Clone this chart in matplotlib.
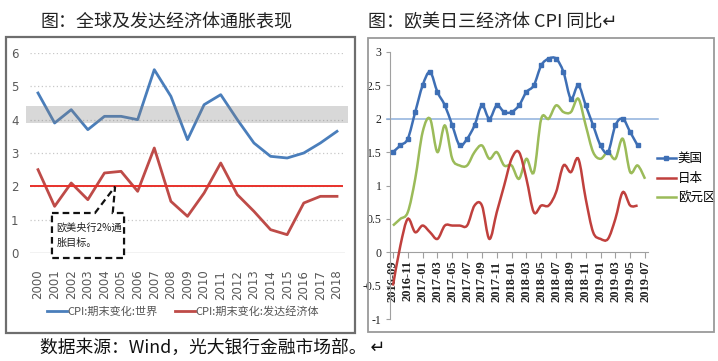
import numpy as np
import pandas as pd
import matplotlib
matplotlib.use('Agg')
import matplotlib.pyplot as plt
from matplotlib.path import Path
from matplotlib.patches import PathPatch, Rectangle, Polygon
from matplotlib.lines import Line2D

plt.rcParams['font.family'] = ['Noto Sans CJK SC', 'DejaVu Sans']

# left chart: yearly CPI
years = list(range(2000, 2019))
world = [4.8, 3.9, 4.3, 3.7, 4.1, 4.1, 4.0, 5.5, 4.7, 3.4, 4.45, 4.75, 4.0,
         3.3, 2.9, 2.85, 3.0, 3.3, 3.65]
developed = [2.5, 1.4, 2.1, 1.6, 2.4, 2.45, 1.85, 3.15, 1.55, 1.1, 1.8, 2.7,
             1.75, 1.25, 0.7, 0.55, 1.5, 1.7, 1.7]
band_low, band_high = 3.9, 4.4
target = 2.0

# right chart: monthly CPI yoy, 2016-09 .. 2019-07
months = list(pd.period_range('2016-09', '2019-07', freq='M').strftime('%Y-%m'))
us = [1.5, 1.6, 1.7, 2.1,
      2.5, 2.7, 2.4, 2.2, 1.9, 1.6, 1.7, 1.9, 2.2, 2.0, 2.2, 2.1,
      2.1, 2.2, 2.4, 2.5, 2.8, 2.9, 2.9, 2.7, 2.3, 2.5, 2.2, 1.9,
      1.6, 1.5, 1.9, 2.0, 1.8, 1.6]
japan = [-0.5, 0.1, 0.5, 0.3,
         0.4, 0.3, 0.2, 0.4, 0.4, 0.4, 0.4, 0.7, 0.7, 0.2, 0.6, 1.0,
         1.4, 1.5, 1.1, 0.6, 0.7, 0.7, 0.9, 1.3, 1.2, 1.4, 0.8, 0.3,
         0.2, 0.2, 0.5, 0.9, 0.7, 0.7]
euro = [0.4, 0.5, 0.6, 1.1,
        1.8, 2.0, 1.5, 1.9, 1.4, 1.3, 1.3, 1.5, 1.6, 1.4, 1.5, 1.3,
        1.3, 1.1, 1.4, 1.2, 2.0, 2.0, 2.2, 2.1, 2.1, 2.3, 1.9, 1.5,
        1.4, 1.5, 1.4, 1.7, 1.2, 1.3, 1.1]

BLUE_L = '#4A7EBB'
RED_L = '#BE4B48'
BLUE_R = '#3E6FB5'
RED_R = '#C0403D'
GREEN_R = '#9BBB59'


def smooth_path(x, y):
    # excel-like smoothed line drawn as bezier segments through the points
    x = np.asarray(x, float)
    y = np.asarray(y, float)
    n = len(x)
    verts = [(x[0], y[0])]
    codes = [Path.MOVETO]
    for i in range(n - 1):
        p = i - 1 if i > 0 else i
        q = i + 2 if i + 2 < n else i + 1
        c1 = (x[i] + (x[i + 1] - x[p]) / 6, y[i] + (y[i + 1] - y[p]) / 6)
        c2 = (x[i + 1] - (x[q] - x[i]) / 6, y[i + 1] - (y[q] - y[i]) / 6)
        verts += [c1, c2, (x[i + 1], y[i + 1])]
        codes += [Path.CURVE4] * 3
    return Path(verts, codes)


W, H = 718, 361
fig = plt.figure(figsize=(W / 100, H / 100), dpi=100)

# frames
fig.add_artist(Rectangle((6 / W, 1 - 333 / H), 349 / W, 296 / H, transform=fig.transFigure,
                         fill=False, ec='#6e6e6e', lw=1.6))
fig.add_artist(Rectangle((368 / W, 1 - 332 / H), 346 / W, 294 / H, transform=fig.transFigure,
                         fill=False, ec='#9a9a9a', lw=1.3))

# titles / footer
fig.text(166 / W, 1 - 22 / H, '图：全球及发达经济体通胀表现', fontsize=13, color='#222222',
         ha='center', va='center')
fig.text(368 / W, 1 - 22 / H, '图：欧美日三经济体 CPI 同比↵', fontsize=13, color='#222222',
         ha='left', va='center')
fig.text(40 / W, 1 - 348 / H, '数据来源：Wind，光大银行金融市场部。 ↵', fontsize=12.8,
         color='#111111', ha='left', va='center')

# ---- left chart ----
ax1 = fig.add_axes([29.7 / W, 1 - 253 / H, 315.6 / W, 200 / H])
ax1.set_xlim(1999.5, 2018.5)
ax1.set_ylim(0, 6)
for s in ax1.spines.values():
    s.set_visible(False)
ax1.set_yticks(range(0, 7))
ax1.set_xticks(years)
ax1.set_xticklabels([str(y) for y in years], rotation=90,
                    family=['Liberation Sans Narrow', 'DejaVu Sans'], fontsize=8.5, color='#595959')
for lab in ax1.get_yticklabels():
    lab.set_family(['Liberation Sans Narrow', 'DejaVu Sans'])
ax1.tick_params(axis='y', length=0, labelsize=8.5, labelcolor='#595959', pad=8)
ax1.tick_params(axis='x', length=0, pad=12)
for v in range(1, 7):
    ax1.axhline(v, color='#c8c8c8', lw=0.9, ls=(0, (1, 2)), zorder=1)
ax1.axhline(0, color='#bfbfbf', lw=1, zorder=1)

ax1.plot(years, world, color=BLUE_L, lw=2, zorder=3)
ax1.plot(years, developed, color=RED_L, lw=2, zorder=3)
ax1.axhline(target, xmin=-0.002, xmax=0.99, color='#E8312B', lw=1.4, zorder=3)
ax1.axhspan(band_low, band_high, xmin=-0.013, xmax=1.008, color='#808080', alpha=0.3,
            lw=0, zorder=4, clip_on=False)

callout = Polygon([(2000.84, 1.2), (2003.43, 1.2), (2004.64, 1.99), (2004.5, 1.2),
                   (2005.18, 1.2), (2005.18, -0.15), (2000.84, -0.15)], closed=True,
                  fc='white', ec='#111111', lw=1.6, ls=(0, (3, 1.8)), zorder=5, clip_on=False)
ax1.add_patch(callout)
ax1.text(2001.1, 0.53, '欧美央行2%通\n胀目标。', fontsize=7.3, color='#222222',
         va='center', ha='left', linespacing=1.6, zorder=6)

h1 = [Line2D([], [], color=BLUE_L, lw=2), Line2D([], [], color=RED_L, lw=2)]
ax1.legend(h1, ['CPI:期末变化:世界', 'CPI:期末变化:发达经济体'], ncol=2, frameon=False,
           loc='center', bbox_to_anchor=(183 / W, 1 - 312 / H), bbox_transform=fig.transFigure,
           fontsize=8, handlelength=1.8, handletextpad=0.1, columnspacing=1.5,
           labelcolor='#555555')

# ---- right chart ----
x = np.arange(len(months))
ax2 = fig.add_axes([390 / W, 1 - 319 / H, 258 / W, 267 / H])
ax2.set_xlim(-0.4, 34.4)
ax2.set_ylim(-1, 3)
ax2.spines['top'].set_visible(False)
ax2.spines['right'].set_visible(False)
ax2.spines['bottom'].set_position(('data', 0))
ax2.spines['bottom'].set_color('#a0a0a0')
ax2.spines['left'].set_color('#a0a0a0')
yt = np.arange(-1, 3.01, 0.5)
ax2.set_yticks(yt)
ax2.set_yticklabels(['{:g}'.format(v) for v in yt], family='Liberation Serif', fontsize=8.5,
                    color='#222222')
ax2.set_xticks(x[::2])
ax2.set_xticklabels(months[::2], rotation=90, family='Liberation Serif', fontweight='bold',
                    fontsize=9, color='#222222')
ax2.tick_params(axis='y', length=3, color='#a0a0a0', pad=3)
ax2.tick_params(axis='x', length=4, color='#a0a0a0', pad=2)

ax2.plot([-0.8, 35.8], [target, target], color='#8EB0DC', lw=1.1, clip_on=False, zorder=2)
ax2.add_patch(PathPatch(smooth_path(x[:len(euro)], euro), fill=False, ec=GREEN_R, lw=1.8,
                        zorder=3, clip_on=False))
ax2.add_patch(PathPatch(smooth_path(x[:len(japan)], japan), fill=False, ec=RED_R, lw=1.8,
                        zorder=3, clip_on=False))
ax2.add_patch(PathPatch(smooth_path(x[:len(us)], us), fill=False, ec=BLUE_R, lw=1.8,
                        zorder=4, clip_on=False))
ax2.plot(x[:len(us)], us, ls='none', marker='s', ms=3.2, color=BLUE_R, zorder=5)

h2 = [Line2D([], [], color=BLUE_R, lw=1.8, marker='s', ms=3.2),
      Line2D([], [], color=RED_R, lw=1.8),
      Line2D([], [], color=GREEN_R, lw=1.8)]
ax2.legend(h2, ['美国', '日本', '欧元区'], frameon=False, loc='upper left',
           bbox_to_anchor=(657 / W, 1 - 152 / H), bbox_transform=fig.transFigure,
           fontsize=9, handlelength=1.5, handletextpad=0.15, labelspacing=0.55,
           borderaxespad=0, borderpad=0)

fig.savefig('out.png', dpi=100)
